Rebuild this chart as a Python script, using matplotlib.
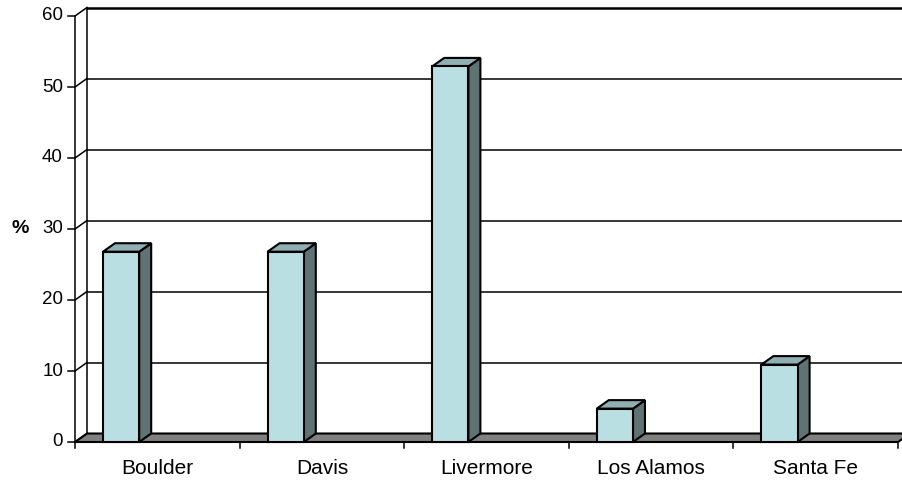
import matplotlib
matplotlib.use("Agg")
import matplotlib.pyplot as plt
from matplotlib.patches import Polygon

plt.rcParams['font.family'] = ['Liberation Sans', 'DejaVu Sans']

# data
sites = ['Boulder', 'Davis', 'Livermore', 'Los Alamos', 'Santa Fe']
pct = [26.8, 26.8, 52.9, 4.7, 10.9]
yticks = [0, 10, 20, 30, 40, 50, 60]

W, H = 902, 482
fig = plt.figure(figsize=(W / 100, H / 100), dpi=100)
# front plane of the 3d box, in pixels
x0, x1 = 75, 898
y0, y1 = 442, 16
ax = fig.add_axes([x0 / W, 1 - y0 / H, (x1 - x0) / W, (y0 - y1) / H])
ax.set_xlim(0, len(sites))
ax.set_ylim(0, 60)
ax.axis('off')

# depth offset of the back wall, in data units
px_x = (x1 - x0) / len(sites)
px_y = (y0 - y1) / 60
dx = 12 / px_x
dy = 8.5 / px_y

front_c = '#b9dfe3'
side_c = '#5f7374'
top_c = '#8fafb3'
floor_c = '#808080'
lw = 1.1

# back wall: gridlines and left edge
xr = len(sites) + 0.2
for t in yticks:
    w = 1.8 if t == 60 else lw
    ax.plot([dx, xr], [t + dy, t + dy], color='black', lw=w, clip_on=False, zorder=1)
    ax.plot([0, dx], [t, t + dy], color='black', lw=lw, clip_on=False, zorder=1)
    ax.plot([-7 / px_x, 0], [t, t], color='black', lw=lw, clip_on=False, zorder=1)
    ax.text(-12 / px_x, t, str(t), ha='right', va='center', fontsize=13.5)
ax.plot([dx, dx], [dy, 60 + dy], color='black', lw=lw, clip_on=False, zorder=1)
ax.plot([0, 0], [0, 60], color='black', lw=lw, clip_on=False, zorder=1)

# floor
n = len(sites)
ax.add_patch(Polygon([(0, 0), (n, 0), (n + dx, dy), (dx, dy)], closed=True,
                     facecolor=floor_c, edgecolor='black', lw=1.5, clip_on=False, zorder=2))
for i in range(n + 1):
    ax.plot([i, i], [0, -6 / px_y], color='black', lw=lw, clip_on=False, zorder=2)

# bars
bl = 0.17
bw = 0.22
for i, v in enumerate(pct):
    l = i + bl
    r = l + bw
    ax.add_patch(Polygon([(r, 0), (r + dx, dy), (r + dx, v + dy), (r, v)], closed=True,
                         facecolor=side_c, edgecolor='black', lw=1.5, clip_on=False, zorder=3))
    ax.add_patch(Polygon([(l, v), (r, v), (r + dx, v + dy), (l + dx, v + dy)], closed=True,
                         facecolor=top_c, edgecolor='black', lw=1.5, clip_on=False, zorder=3))
    ax.add_patch(Polygon([(l, 0), (r, 0), (r, v), (l, v)], closed=True,
                         facecolor=front_c, edgecolor='black', lw=1.5, clip_on=False, zorder=4))
    ax.text(i + 0.5, -26 / px_y, sites[i], ha='center', va='center', fontsize=15)

ax.text(-54.5 / px_x, 30, '%', ha='center', va='center', fontsize=14, fontweight='bold')

fig.savefig('out.png', dpi=100)
